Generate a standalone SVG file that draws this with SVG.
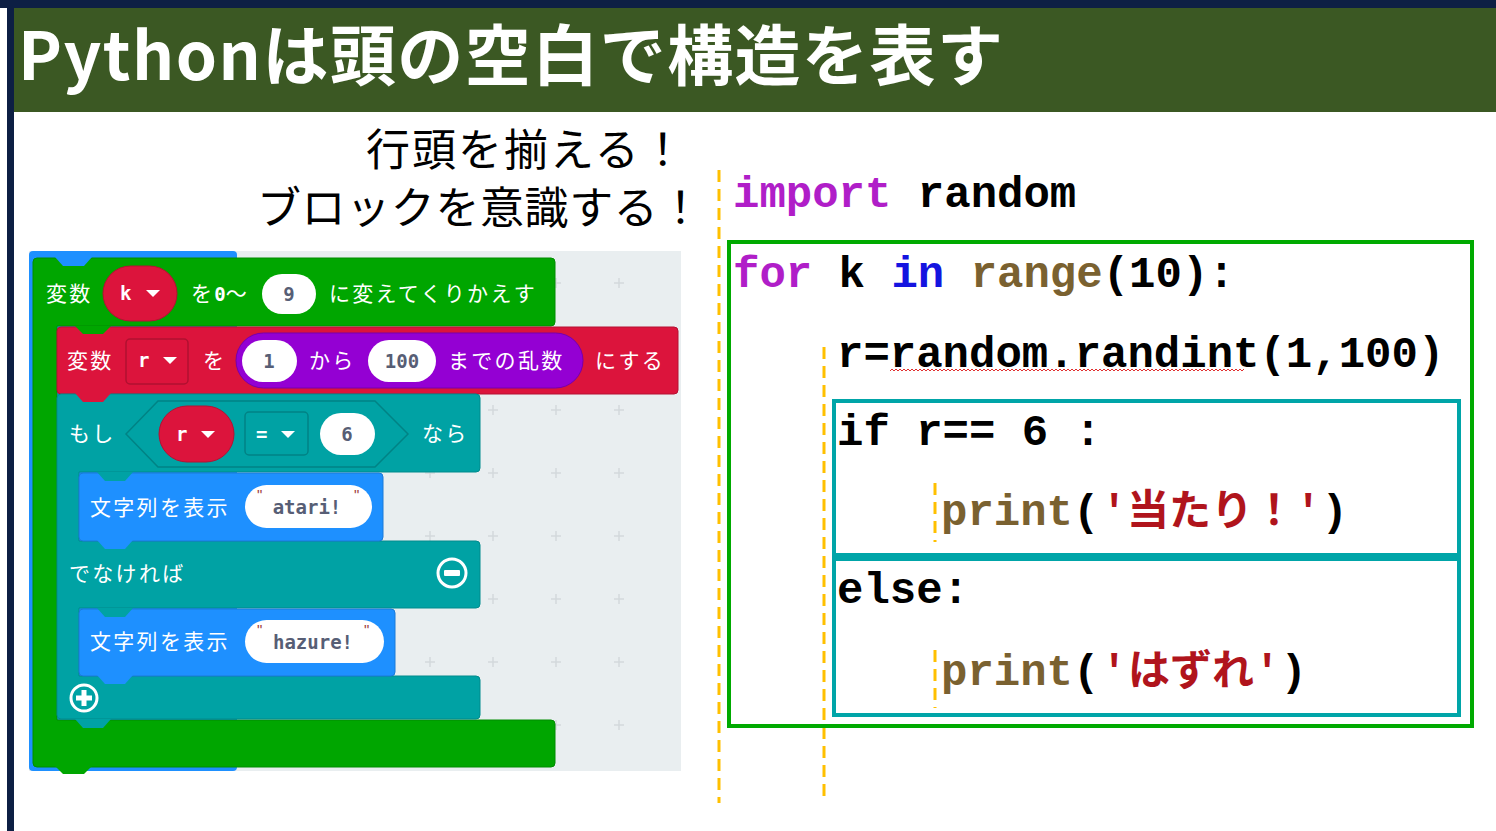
<svg xmlns="http://www.w3.org/2000/svg" width="1496" height="831" viewBox="0 0 1496 831">
<defs>
<style>
.bt{font-family:"Noto Sans CJK JP","Noto Sans",sans-serif;font-size:21px;fill:#fff;letter-spacing:2.3px}
.pt{font-family:"DejaVu Sans Mono","Liberation Mono",monospace;font-size:19px;font-weight:bold;fill:#575e75;text-anchor:middle}
.vt{font-family:"DejaVu Sans Mono","Liberation Mono",monospace;font-size:19px;font-weight:bold;fill:#fff}
.q{font-family:"Liberation Sans",sans-serif;font-size:15px;fill:#a04040}
.code{font-family:"Liberation Mono","DejaVu Sans Mono",monospace;font-size:44px;font-weight:bold;fill:#000}
.jp{font-family:"Noto Sans CJK JP",sans-serif;font-size:42px;font-weight:bold;fill:#b0141c}
.kw{fill:#b01ec8}
.bl{fill:#1414e0}
.ol{fill:#7a6130}
.rd{fill:#b0141c}
.pill{fill:#fff}
.cross{stroke:#d3d9db;stroke-width:1.5}
.guide{stroke:#ffc000;stroke-width:3;stroke-dasharray:12 7;fill:none}
.tri{fill:#fff}
</style>
</defs>
<rect x="0" y="0" width="1496" height="831" fill="#fff"/>
<g id="title">
<rect x="0" y="0" width="1496" height="8" fill="#0d1f44"/>
<rect x="7" y="0" width="7" height="831" fill="#0d1f44"/>
<rect x="14" y="8" width="1482" height="104" fill="#3b5823"/>
<text x="18" y="80" font-family="Noto Sans CJK JP,sans-serif" font-weight="bold" font-size="66" fill="#fff" textLength="985" lengthAdjust="spacing">Pythonは頭の空白で構造を表す</text>
</g>
<g id="subtitle" font-family="Noto Sans CJK JP,sans-serif" font-size="44" fill="#000">
<text x="366" y="166" letter-spacing="2">行頭を揃える！</text>
<text x="257" y="224" letter-spacing="0.6">ブロックを意識する！</text>
</g>
<g id="workspace">
<rect x="29" y="251" width="652" height="520" fill="#e9eef0"/>
<g class="cross">
<path d="M425,283h10M430,278v10M488,283h10M493,278v10M551,283h10M556,278v10M614,283h10M619,278v10"/>
<path d="M425,410h10M430,405v10M488,410h10M493,405v10M551,410h10M556,405v10M614,410h10M619,405v10"/>
<path d="M425,473h10M430,468v10M488,473h10M493,468v10M551,473h10M556,468v10M614,473h10M619,468v10"/>
<path d="M425,536h10M430,531v10M488,536h10M493,531v10M551,536h10M556,531v10M614,536h10M619,531v10"/>
<path d="M425,599h10M430,594v10M488,599h10M493,594v10M551,599h10M556,594v10M614,599h10M619,594v10"/>
<path d="M425,662h10M430,657v10M488,662h10M493,657v10M551,662h10M556,657v10M614,662h10M619,657v10"/>
<path d="M425,725h10M430,720v10M488,725h10M493,720v10M551,725h10M556,720v10M614,725h10M619,720v10"/>
</g>
<rect x="29" y="251" width="208" height="520" rx="4" fill="#1e90ff"/>
</g>
<g id="block-for">
<path d="M33,262q0,-4 4,-4H551q4,0 4,4V322q0,4 -4,4H57V720H551q4,0 4,4V763q0,4 -4,4H37q-4,0 -4,-4Z" fill="#00a600" stroke="#008c00" stroke-width="1"/>
<polygon points="55,257 63,266 84,266 92,257" fill="#1e90ff"/>
<text class="bt" x="46" y="301">変数</text>
<rect x="103" y="266" width="74" height="55" rx="27.5" fill="#dc143c" stroke="#b51032"/>
<text class="vt" x="120" y="300">k</text>
<polygon class="tri" points="146,290 160,290 153,297"/>
<text class="bt" x="191" y="301">を<tspan font-family="DejaVu Sans Mono,monospace" font-weight="bold" font-size="19" letter-spacing="0">0</tspan>〜</text>
<rect x="262" y="274" width="54" height="40" rx="20" class="pill"/>
<text class="pt" x="289" y="301">9</text>
<text class="bt" x="329" y="301" letter-spacing="3">に変えてくりかえす</text>
</g>
<g id="block-set">
<rect x="57" y="327" width="621" height="67" rx="4" fill="#dc143c" stroke="#b51032" stroke-width="1"/>
<polygon points="75,326 83,334 103,334 111,326" fill="#00a600"/>
<text class="bt" x="67" y="368">変数</text>
<rect x="126" y="339" width="62" height="45" rx="4" fill="#dc143c" stroke="#b01030" stroke-width="1.5"/>
<text class="vt" x="138" y="367">r</text>
<polygon class="tri" points="163,357 177,357 170,364"/>
<text class="bt" x="203" y="368">を</text>
<rect x="236" y="333" width="347" height="55" rx="27.5" fill="#9400d3" stroke="#7700aa" stroke-width="1"/>
<rect x="242" y="340" width="55" height="42" rx="21" class="pill"/>
<text class="pt" x="269" y="368">1</text>
<text class="bt" x="309" y="368">から</text>
<rect x="368" y="340" width="68" height="42" rx="21" class="pill"/>
<text class="pt" x="402" y="368">100</text>
<text class="bt" x="448" y="368">までの乱数</text>
<text class="bt" x="595" y="368">にする</text>
</g>
<g id="block-if">
<path d="M57,398q0,-4 4,-4H476q4,0 4,4V468q0,4 -4,4H79V541H476q4,0 4,4V604q0,4 -4,4H79V676H476q4,0 4,4V715q0,4 -4,4H61q-4,0 -4,-4Z" fill="#00a2a4" stroke="#008b8d" stroke-width="1"/>
<polygon points="75,393 83,402 103,402 111,393" fill="#dc143c"/>
<text class="bt" x="69" y="441">もし</text>
<polygon points="126,434 158,401 375,401 408,434 375,467 158,467" fill="#00a2a4" stroke="#008385" stroke-width="1.5"/>
<rect x="159" y="406" width="75" height="56" rx="28" fill="#dc143c" stroke="#b51032"/>
<text class="vt" x="176" y="441">r</text>
<polygon class="tri" points="201,431 215,431 208,438"/>
<rect x="245" y="412" width="63" height="43" rx="4" fill="#00a2a4" stroke="#008385" stroke-width="1.5"/>
<text class="vt" x="256" y="441">=</text>
<polygon class="tri" points="281,431 295,431 288,438"/>
<rect x="320" y="413" width="55" height="42" rx="21" class="pill"/>
<text class="pt" x="347" y="441">6</text>
<text class="bt" x="422" y="441">なら</text>
<text class="bt" x="69" y="581">でなければ</text>
<circle cx="452" cy="573" r="14" fill="none" stroke="#fff" stroke-width="3"/>
<rect x="444" y="570" width="16" height="6" rx="1" fill="#fff"/>
<circle cx="84" cy="698" r="13" fill="none" stroke="#fff" stroke-width="3"/>
<path d="M84,690V706M76,698H92" stroke="#fff" stroke-width="5"/>
<polygon points="75,719 83,728 103,728 111,719" fill="#00a2a4"/>
<polygon points="55,766 63,774 84,774 92,766" fill="#00a600"/>
</g>
<g id="block-show-atari">
<rect x="79" y="473" width="304" height="68" rx="4" fill="#1e90ff" stroke="#1a7ad8" stroke-width="1"/>
<polygon points="97,472 105,481 125,481 133,472" fill="#00a2a4"/>
<polygon points="97,540 105,549 125,549 133,540" fill="#1e90ff"/>
<text class="bt" x="90" y="515">文字列を表示</text>
<rect x="245" y="485" width="127" height="43" rx="21.5" class="pill"/>
<text class="q" x="257" y="500">"</text>
<text class="q" x="354" y="500">"</text>
<text class="pt" x="307" y="514">atari!</text>
</g>
<g id="block-show-hazure">
<rect x="79" y="609" width="316" height="67" rx="4" fill="#1e90ff" stroke="#1a7ad8" stroke-width="1"/>
<polygon points="97,608 105,617 125,617 133,608" fill="#00a2a4"/>
<polygon points="97,675 105,684 125,684 133,675" fill="#1e90ff"/>
<text class="bt" x="90" y="649">文字列を表示</text>
<rect x="245" y="620" width="139" height="43" rx="21.5" class="pill"/>
<text class="q" x="257" y="635">"</text>
<text class="q" x="364" y="635">"</text>
<text class="pt" x="313" y="649">hazure!</text>
</g>
<g id="connectors">
<line class="guide" x1="719" y1="170" x2="719" y2="803"/>
<line class="guide" x1="824" y1="347" x2="824" y2="800"/>
<line class="guide" x1="935" y1="483" x2="935" y2="542"/>
<line class="guide" x1="935" y1="650" x2="935" y2="708"/>
</g>
<g id="box-for">
<rect x="729" y="242" width="743" height="484" fill="none" stroke="#00aa00" stroke-width="4"/>
</g>
<g id="box-if">
<rect x="834" y="401" width="625" height="154" fill="none" stroke="#00a5a8" stroke-width="4"/>
</g>
<g id="box-else">
<rect x="834" y="559" width="625" height="156" fill="none" stroke="#00a5a8" stroke-width="4"/>
</g>
<g id="code">
<text class="code" x="733" y="207"><tspan class="kw">import</tspan> random</text>
<text class="code" x="733" y="287"><tspan class="kw">for</tspan> k <tspan class="bl">in</tspan> <tspan class="ol">range</tspan>(10):</text>
<text class="code" x="837" y="367">r=random.randint(1,100)</text>
<path d="M890,371l2,-2l2,2l2,-2l2,2l2,-2l2,2l2,-2l2,2l2,-2l2,2l2,-2l2,2l2,-2l2,2l2,-2l2,2l2,-2l2,2l2,-2l2,2l2,-2l2,2l2,-2l2,2l2,-2l2,2l2,-2l2,2l2,-2l2,2l2,-2l2,2l2,-2l2,2l2,-2l2,2l2,-2l2,2l2,-2l2,2l2,-2l2,2l2,-2l2,2l2,-2l2,2l2,-2l2,2l2,-2l2,2l2,-2l2,2l2,-2l2,2l2,-2l2,2l2,-2l2,2l2,-2l2,2l2,-2l2,2l2,-2l2,2l2,-2l2,2l2,-2l2,2l2,-2l2,2l2,-2l2,2l2,-2l2,2l2,-2l2,2l2,-2l2,2l2,-2l2,2l2,-2l2,2l2,-2l2,2l2,-2l2,2l2,-2l2,2l2,-2l2,2l2,-2l2,2l2,-2l2,2l2,-2l2,2l2,-2l2,2l2,-2l2,2l2,-2l2,2l2,-2l2,2l2,-2l2,2l2,-2l2,2l2,-2l2,2l2,-2l2,2l2,-2l2,2l2,-2l2,2l2,-2l2,2l2,-2l2,2l2,-2l2,2l2,-2l2,2l2,-2l2,2l2,-2l2,2l2,-2l2,2l2,-2l2,2l2,-2l2,2l2,-2l2,2l2,-2l2,2l2,-2l2,2l2,-2l2,2l2,-2l2,2l2,-2l2,2l2,-2l2,2l2,-2l2,2l2,-2l2,2l2,-2l2,2l2,-2l2,2l2,-2l2,2l2,-2l2,2l2,-2l2,2l2,-2l2,2l2,-2l2,2l2,-2l2,2l2,-2l2,2l2,-2l2,2l2,-2l2,2l2,-2l2,2l2,-2" fill="none" stroke="#e03030" stroke-width="1"/>
<text class="code" x="837" y="445">if r== 6 :</text>
<text class="code" x="941" y="525"><tspan class="ol">print</tspan>(<tspan class="rd" x="1101">'</tspan></text>
<text class="jp" x="1127" y="525">当たり！</text>
<text class="code" x="1295" y="525"><tspan class="rd">'</tspan>)</text>
<text class="code" x="837" y="603">else:</text>
<text class="code" x="941" y="685"><tspan class="ol">print</tspan>(<tspan class="rd" x="1101">'</tspan></text>
<text class="jp" x="1128" y="685">はずれ</text>
<text class="code" x="1254" y="685"><tspan class="rd">'</tspan>)</text>
</g>
</svg>
